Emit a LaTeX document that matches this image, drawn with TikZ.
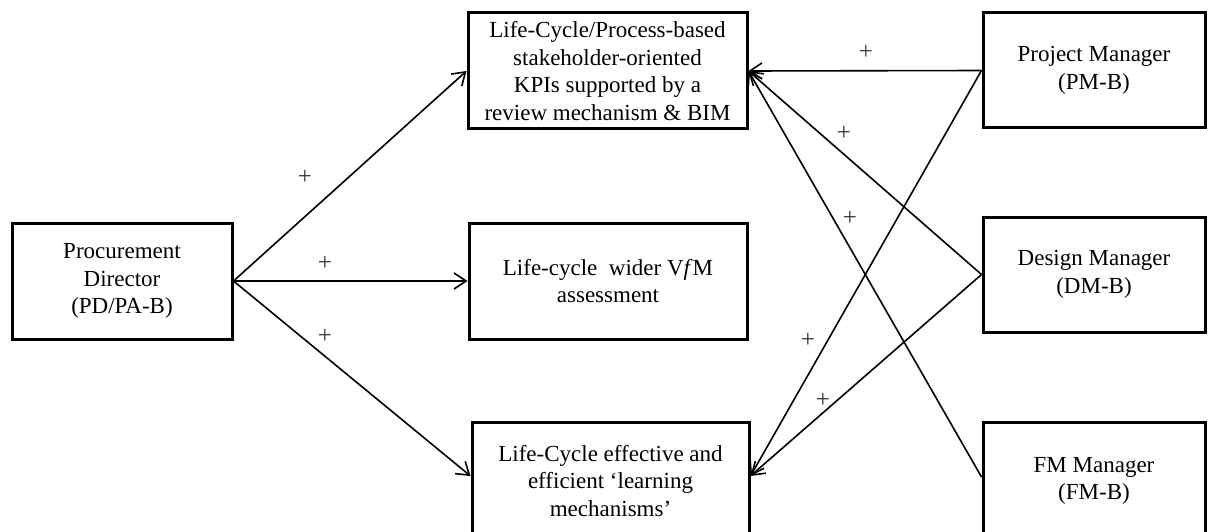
\documentclass[tikz,border=0pt]{standalone}
\usepackage{fontspec}
\setmainfont{Liberation Serif}
\usetikzlibrary{arrows.meta}
\begin{document}
\begin{tikzpicture}[x=1pt,y=-1pt,
  box/.style={draw, line width=3pt, align=center, inner sep=0pt,
    font=\fontsize{23}{27.5}\selectfont},
  link/.style={line width=1.6pt,
    -{Straight Barb[length=12pt,width=16pt,line width=1.6pt]}},
  sign/.style={font=\fontsize{25}{25}\selectfont, text=black!80, inner sep=0pt}]
\useasboundingbox (0,0) rectangle (1210,532);
\clip (0,0) rectangle (1210,532);

% actors
\node[box, minimum width=220pt, minimum height=116pt] (pd) at (122,281)
  {Procurement\\Director\\(PD/PA-B)};
\node[box, minimum width=222pt, minimum height=115pt] (pm) at (1094,70.5)
  {Project Manager\\(PM-B)};
\node[box, minimum width=222pt, minimum height=115pt] (dm) at (1094,274.5)
  {Design Manager\\(DM-B)};
\node[box, minimum width=222pt, minimum height=118pt] (fm) at (1094,481)
  {FM Manager\\(FM-B)};

% outcomes
\node[box, minimum width=279pt, minimum height=116pt] (kpi) at (607.5,71)
  {Life-Cycle/Process-based\\stakeholder-oriented\\KPIs supported by a\\review mechanism \& BIM};
\node[box, minimum width=278pt, minimum height=116pt] (vfm) at (608,281)
  {Life-cycle\hspace{0.25em} wider V\textit{f}M\\assessment};
\node[box, minimum width=277pt, minimum height=118pt] (learn) at (610.5,481)
  {Life-Cycle effective and\\efficient ‘learning\\mechanisms’};

% anchors on the lower boxes
\coordinate (learnin) at ([yshift=5pt]learn.west);
\coordinate (learnin2) at ([yshift=5pt]learn.east);
\coordinate (fmout) at ([yshift=4pt]fm.west);

% links from the procurement director
\draw[link] (pd.east) -- (kpi.west);
\draw[link] (pd.east) -- (vfm.west);
\draw[link] (pd.east) -- (learnin);

% links from the managers
\draw[link] (pm.west) -- (kpi.east);
\draw[link] (dm.west) -- (kpi.east);
\draw[link] (fmout) -- (kpi.east);
\draw[link] (pm.west) -- (learnin2);
\draw[link] (dm.west) -- (learnin2);

% polarity marks
\node[sign] (s1) at (305,177) {+};
\node[sign] (s2) at (325,263) {+};
\node[sign] (s3) at (325,336) {+};
\node[sign] (s4) at (866,52) {+};
\node[sign] (s5) at (844,133) {+};
\node[sign] (s6) at (850,218) {+};
\node[sign] (s7) at (808,340) {+};
\node[sign] (s8) at (823,400) {+};
\end{tikzpicture}
\end{document}
